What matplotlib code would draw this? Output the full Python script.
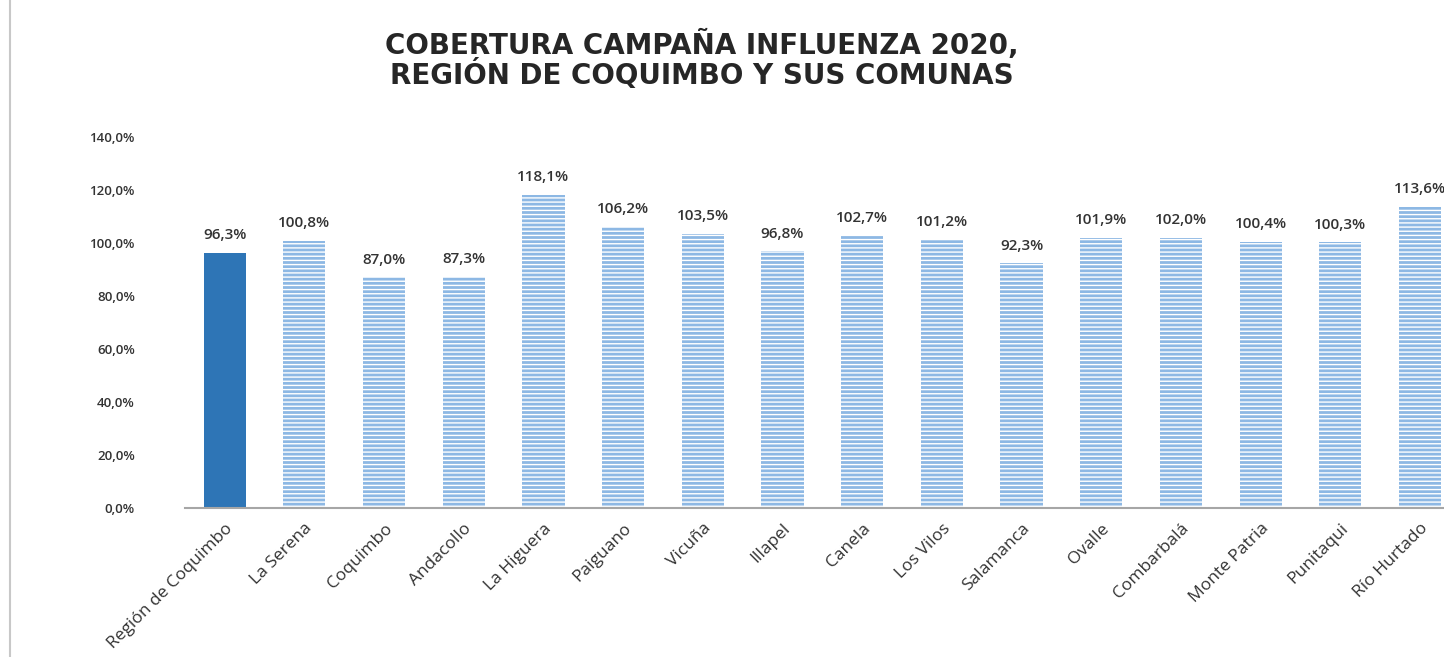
import numpy as np
import matplotlib.pyplot as plt
from matplotlib.lines import Line2D

# Datos del gráfico
comunas = ['Región de Coquimbo', 'La Serena', 'Coquimbo', 'Andacollo', 'La Higuera',
           'Paiguano', 'Vicuña', 'Illapel', 'Canela', 'Los Vilos', 'Salamanca',
           'Ovalle', 'Combarbalá', 'Monte Patria', 'Punitaqui', 'Río Hurtado']
cobertura = [96.3, 100.8, 87.0, 87.3, 118.1, 106.2, 103.5, 96.8, 102.7, 101.2,
             92.3, 101.9, 102.0, 100.4, 100.3, 113.6]
yticks = [0, 20, 40, 60, 80, 100, 120, 140]

plt.rcParams['font.family'] = ['Open Sans', 'DejaVu Sans']
plt.rcParams['hatch.linewidth'] = 1.0

fig = plt.figure(figsize=(14.44, 6.57), dpi=100)
ax = fig.add_axes([0.128, 0.2268, 1.011 - 0.128, 0.5647])

x = np.arange(len(comunas))
# primera barra sólida, el resto con rayas horizontales blancas
ax.bar(x[:1], cobertura[:1], width=0.53, color='#2E75B6', linewidth=0)
ax.bar(x[1:], cobertura[1:], width=0.53, color='#8DB8E4', edgecolor='white',
       hatch='----', linewidth=0)

for xi, v in zip(x, cobertura):
    ax.text(xi, v + 4, f'{v:.1f}%'.replace('.', ','), ha='center', va='bottom',
            fontsize=11, color='#333333', fontweight='semibold')

ax.set_xlim(-0.5, len(comunas) - 0.5)
ax.set_ylim(0, 140)
ax.set_yticks(yticks)
ax.set_yticklabels([f'{t:.1f}%'.replace('.', ',') for t in yticks],
                   fontsize=9.5, color='#333333', fontweight='semibold')
ax.set_xticks(x)
ax.set_xticklabels(comunas, rotation=45, ha='right', rotation_mode='anchor',
                   fontsize=12.5, color='#333333')
ax.tick_params(axis='both', length=0)
ax.tick_params(axis='y', pad=36)
ax.tick_params(axis='x', pad=9)

for s in ['top', 'right', 'left']:
    ax.spines[s].set_visible(False)
ax.spines['bottom'].set_color('#A6A6A6')
ax.spines['bottom'].set_linewidth(1.5)

fig.text(0.486, 0.9315, 'COBERTURA CAMPAÑA INFLUENZA 2020,', ha='center', va='center',
         fontsize=20, fontweight='bold', color='#262626', family='DejaVu Sans')
fig.text(0.486, 0.886, 'REGIÓN DE COQUIMBO Y SUS COMUNAS', ha='center', va='center',
         fontsize=20, fontweight='bold', color='#262626', family='DejaVu Sans')

# borde gris a la izquierda
fig.add_artist(Line2D([0.007, 0.007], [0.0, 1.0], color='#C8C8C8', linewidth=1.5))

fig.savefig('out.png', dpi=100)
